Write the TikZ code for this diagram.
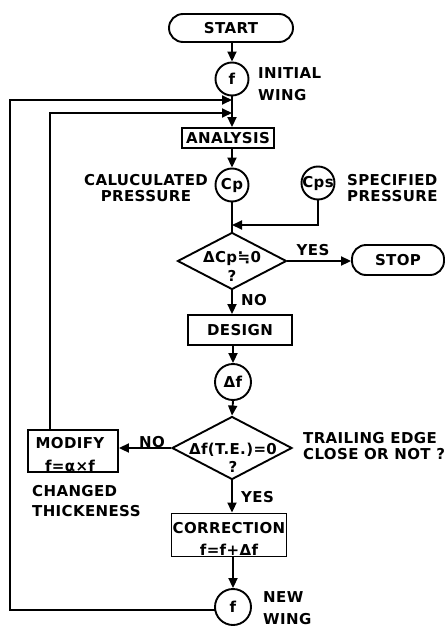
\documentclass[tikz,border=0pt]{standalone}
\usepackage{fontspec}
\setmainfont[LetterSpace=2.5]{DejaVu Sans}
\usetikzlibrary{arrows.meta,shapes.geometric}

\begin{document}
\begin{tikzpicture}[x=1pt,y=-1pt,
  every node/.style={font=\fontsize{15}{16}\bfseries},
  ln/.style={line width=1.9pt},
  arr/.style={ln,-{Triangle[length=10pt,width=9pt]}},
  pill/.style={draw,ln,rounded corners=14pt,inner sep=0pt},
  circ/.style={draw,ln,circle,minimum size=33pt,inner sep=0pt},
  box/.style={draw,ln,rectangle,inner sep=0pt},
  dia/.style={draw,ln,diamond,inner sep=0pt},
  txt/.style={inner sep=0pt,align=center},
  lbl/.style={inner sep=0pt,anchor=north west,align=left},
]
\useasboundingbox (0,0) rectangle (446,637);

% main column
\node[pill,minimum width=124pt,minimum height=28pt] (start) at (231,28) {START};
\node[circ] (f1) at (232,79) {\makebox[0pt]{f}};
\node[box,minimum width=92pt,minimum height=20pt] (ana) at (228,138) {ANALYSIS};
\node[circ] (cp) at (232,185) {\makebox[0pt]{Cp}};
\node[circ] (cps) at (318,183) {\makebox[0pt]{Cps}};
\coordinate (jc) at (232,225);
\node[dia,minimum width=109pt,minimum height=57pt] (d1) at (232,261) {};
\node[txt,font=\fontsize{15}{19}\bfseries] (d1t) at (232,266) {ΔCp≒0\\?};
\node[pill,minimum width=92pt,minimum height=30pt] (stop) at (398,260) {STOP};
\node[box,minimum width=104pt,minimum height=30pt] (des) at (240,330) {DESIGN};
\node[circ,minimum size=36pt] (df) at (233,382) {\makebox[0pt]{Δf}};
\node[dia,minimum width=120pt,minimum height=63pt] (d2) at (232,448) {};
\node[txt,font=\fontsize{15}{18}\bfseries] (d2t) at (233,458) {Δf(T.E.)=0\\?};
\node[box,minimum width=90pt,minimum height=42pt] (mod) at (73,451) {};
\node[txt,font=\fontsize{15}{23}\bfseries] (modt) at (70,455) {MODIFY\\f=α×f};
\node[box,minimum width=115pt,minimum height=43pt] (cor) at (229,535) {};
\node[txt,font=\fontsize{15}{22}\bfseries] (cort) at (229,539) {CORRECTION\\f=f+Δf};
\node[circ,minimum size=36pt] (f2) at (233,607) {\makebox[0pt]{f}};

% loop corners and entry points
\coordinate (outerL) at (10,100);
\coordinate (outerR) at (232,100);
\coordinate (innerL) at (50,113);
\coordinate (innerR) at (232,113);
\coordinate (modtop) at (50,430);
\coordinate (f2w) at (215,610);

% labels
\node[lbl,font=\fontsize{15}{22}\bfseries] (l1) at (258,67) {INITIAL\\WING};
\node[txt,anchor=north,font=\fontsize{15}{16}\bfseries] (l2) at (146,174) {CALUCULATED\\PRESSURE};
\node[lbl,font=\fontsize{15}{16}\bfseries] (l3) at (347,174) {SPECIFIED\\PRESSURE};
\node[txt] (l4) at (313,250) {YES};
\node[txt,anchor=west] (l5) at (241,300) {NO};
\node[txt] (l6) at (152,442) {NO};
\node[lbl,font=\fontsize{15}{16}\bfseries] (l7) at (303,432) {TRAILING EDGE\\CLOSE OR NOT ?};
\node[lbl,font=\fontsize{15}{20}\bfseries] (l8) at (32,485) {CHANGED\\THICKENESS};
\node[txt,anchor=west] (l9) at (241,497) {YES};
\node[lbl,font=\fontsize{15}{22}\bfseries] (l10) at (263,591) {NEW\\WING};

% connectors
\draw[arr] (start.south -| f1.north) -- (f1.north);
\draw[arr] (f1.south) -- (f1.south |- ana.north);
\draw[arr] (f2w) -| (outerL) -- (outerR);
\draw[arr] (modtop) -- (innerL) -- (innerR);
\draw[arr] (cp.north |- ana.south) -- (cp.north);
\draw[ln] (cp.south) -- (d1.north);
\draw[arr] (cps.south) |- (jc);
\draw[arr] (d1.east) -- (d1.east -| stop.west);
\draw[arr] (d1.south) -- (d1.south |- des.north);
\draw[arr] (df.north |- des.south) -- (df.north);
\draw[arr] (df.south) -- (d2.north);
\draw[arr] (d2.west) -- (d2.west -| mod.east);
\draw[arr] (d2.south) -- (d2.south |- cor.north);
\draw[arr] (f2.north |- cor.south) -- (f2.north);
\end{tikzpicture}
\end{document}
